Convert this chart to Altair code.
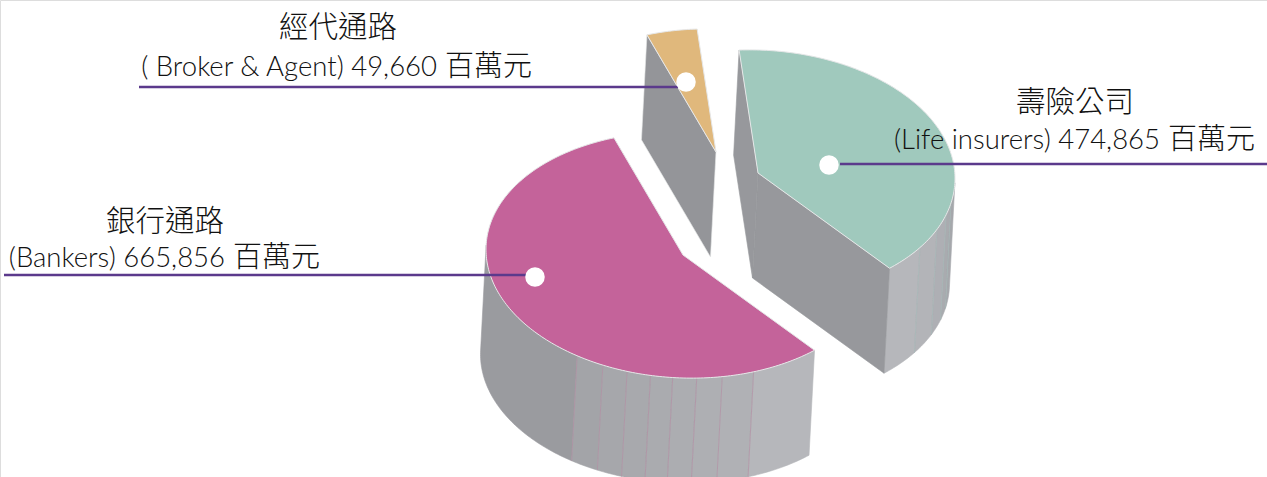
import math
import altair as alt
import pandas as pd

W, H = 1267, 477

# Premium income by sales channel, in millions
channels = ["銀行通路", "壽險公司", "經代通路"]
english = ["(Bankers)", "(Life insurers)", "( Broker & Agent)"]
values = [665856, 474865, 49660]
unit = "百萬元"

# Slice artwork
top_colors = ["#c4639a", "#a0c9bd", "#e0b87c"]
inner_colors = [None, "#97989c", "#949599"]
apexes = [(683, 255), (758, 173), (716, 152)]

# Projection of the tilted disc
RX, RY, SKEW = 197, 123, 0.028
DEPTH = (-5.5, 105)
START_DEG = -95.5

total = sum(values)
spans = [v / total * 360 for v in values]
green_start = START_DEG
green_end = green_start + spans[1]
tan_start = green_start - spans[2]
pink_start = green_end
pink_end = pink_start + spans[0]


def rim(apex, deg):
    t = math.radians(deg)
    return (apex[0] + RX * math.cos(t),
            apex[1] + RY * math.sin(t) + SKEW * RX * math.cos(t))


def drop(p):
    return (p[0] + DEPTH[0], p[1] + DEPTH[1])


def arc(apex, a, b):
    n = max(2, int(abs(b - a)) + 1)
    return [rim(apex, a + (b - a) * i / n) for i in range(n + 1)]


faces = []
seams = []
tops = []


def add(rows, name, pts, fill=None, stroke=None):
    for i, (x, y) in enumerate(pts):
        rows.append({"poly": name, "i": i, "x": x, "y": y, "fill": fill, "stroke": stroke})


def wall(name, apex, a, b, color):
    top = arc(apex, a, b)
    add(faces, name, top + [drop(p) for p in reversed(top)], color, color)


# Outer wall of the bank slice, lightening toward its right end
pink_bounds = [182, 122.5, 114, 106.5, 99.5, 93, 86, 78.5, 69, pink_start]
pink_walls = ["#9a9b9f", "#a3a4a8", "#a6a7ab", "#a8a9ad", "#aaabaf",
              "#acadb1", "#aeafb3", "#b0b1b5", "#b6b7bb"]
# Outer wall of the life insurance slice
green_bounds = [green_end, 34.7, 24.7, 17.3, 11.6, 2]
green_walls = ["#b6b7bb", "#b3b4b8", "#aeafb4", "#a9abaf", "#a6a8ac"]

for k, color in enumerate(pink_walls):
    wall(f"pw{k}", apexes[0], pink_bounds[k], pink_bounds[k + 1], color)
for k, color in enumerate(green_walls):
    wall(f"gw{k}", apexes[1], green_bounds[k], green_bounds[k + 1], color)

# Cut faces below the straight edges of the two outer slices
g_apex, t_apex = apexes[1], apexes[2]
g_end = rim(g_apex, green_end)
g_start = rim(g_apex, green_start)
add(faces, "gc1", [g_apex, g_end, drop(g_end), drop(g_apex)], inner_colors[1], inner_colors[1])
add(faces, "gc2", [g_apex, g_start, drop(g_start), drop(g_apex)], inner_colors[1], inner_colors[1])
t_start = rim(t_apex, tan_start)
add(faces, "tc1", [t_apex, t_start, drop(t_start), drop(t_apex)], inner_colors[2], "#e6e7e8")

# Faint joints between wall facets
for k, deg in enumerate(pink_bounds[1:-1]):
    p = rim(apexes[0], deg)
    add(seams, f"ps{k}", [p, drop(p)], None, "#b08aa0")
for k, deg in enumerate(green_bounds[1:-1]):
    p = rim(apexes[1], deg)
    add(seams, f"gs{k}", [p, drop(p)], None, "#a3b8b6")

# Top faces
add(tops, "pink", [apexes[0]] + arc(apexes[0], pink_start, pink_end), top_colors[0], "#e6e7e8")
add(tops, "green", [apexes[1]] + arc(apexes[1], green_start, green_end), top_colors[1], "#e6e7e8")
add(tops, "tan", [apexes[2]] + arc(apexes[2], tan_start, green_start), top_colors[2], "#e6e7e8")

x_enc = alt.X("x:Q", scale=alt.Scale(domain=[0, W]), axis=None)
y_enc = alt.Y("y:Q", scale=alt.Scale(domain=[H, 0]), axis=None)

face_layer = alt.Chart(pd.DataFrame(faces)).mark_line(
    interpolate="linear-closed", strokeWidth=0.6
).encode(
    x=x_enc, y=y_enc, order="i:Q", detail="poly:N",
    fill=alt.Fill("fill:N", scale=None),
    stroke=alt.Stroke("stroke:N", scale=None),
)

seam_layer = alt.Chart(pd.DataFrame(seams)).mark_line(strokeWidth=0.8, opacity=0.8).encode(
    x=x_enc, y=y_enc, order="i:Q", detail="poly:N",
    stroke=alt.Stroke("stroke:N", scale=None),
)

top_layer = alt.Chart(pd.DataFrame(tops)).mark_line(
    interpolate="linear-closed", strokeWidth=1
).encode(
    x=x_enc, y=y_enc, order="i:Q", detail="poly:N",
    fill=alt.Fill("fill:N", scale=None),
    stroke=alt.Stroke("stroke:N", scale=None),
)

# Leader lines and their end dots
leaders = pd.DataFrame({
    "x": [4, 840, 139], "x2": [527, 1267, 678], "y": [275, 164, 87],
})
dots = pd.DataFrame({"x": [535, 829, 686], "y": [277, 165, 82]})

leader_layer = alt.Chart(leaders).mark_rule(color="#5b3a8c", strokeWidth=2.6).encode(
    x=x_enc, x2="x2:Q", y=y_enc
)
dot_layer = alt.Chart(dots).mark_circle(color="white", size=380, opacity=1).encode(x=x_enc, y=y_enc)

# Captions: channel name, then the English name with the value, then the unit
TEXT_STYLE = dict(font="Lato, Noto Sans CJK TC", fontWeight=300, color="#111111", baseline="middle")
name_rows = pd.DataFrame({"x": [165, 1075, 338], "y": [222, 103, 28], "text": channels})
amount_rows = pd.DataFrame({
    "x": [225, 1160, 437], "y": [259, 141, 68],
    "text": [f"{e} {v:,}" for e, v in zip(english, values)],
})
unit_rows = pd.DataFrame({"x": [233, 1168, 445], "y": [258, 140, 67], "text": [unit] * 3})

name_layer = alt.Chart(name_rows).mark_text(fontSize=29.5, align="center", **TEXT_STYLE).encode(
    x=x_enc, y=y_enc, text="text:N"
)
amount_layer = alt.Chart(amount_rows).mark_text(fontSize=27.5, align="right", **TEXT_STYLE).encode(
    x=x_enc, y=y_enc, text="text:N"
)
unit_layer = alt.Chart(unit_rows).mark_text(fontSize=29, align="left", **TEXT_STYLE).encode(
    x=x_enc, y=y_enc, text="text:N"
)

chart = alt.layer(
    face_layer, seam_layer, top_layer, leader_layer, dot_layer,
    name_layer, amount_layer, unit_layer,
).properties(
    width=W, height=H, padding=0, autosize=alt.AutoSizeParams(type="none")
).configure_view(stroke=None, strokeWidth=0).configure(background="white")

chart.save("out.html", embed_options={"renderer": "svg", "actions": False})
